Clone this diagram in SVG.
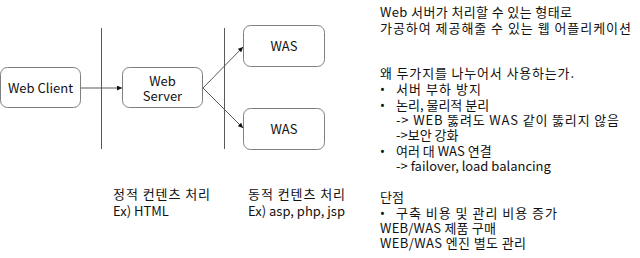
<svg xmlns="http://www.w3.org/2000/svg" width="640" height="258" viewBox="0 0 640 258">
<defs>
<style>
.box{fill:#fff;stroke:#7f7f7f;stroke-width:1}
.ln{stroke:#595959;stroke-width:1;fill:none}
.t{font-family:"Noto Sans CJK KR","Noto Sans",sans-serif;font-size:13px;fill:#111}
.b{font-family:"Noto Sans",sans-serif;font-size:13px;fill:#111}
.c{text-anchor:middle}
</style>
<marker id="ah" viewBox="0 0 6 6" refX="6" refY="3" markerWidth="5" markerHeight="5" orient="auto" markerUnits="userSpaceOnUse">
<path d="M0,0 L6,3 L0,6 z" fill="#111"/>
</marker>
</defs>
<rect width="640" height="258" fill="#fff"/>
<g id="dividers">
<line class="ln" x1="101.5" y1="28" x2="101.5" y2="149"/>
<line class="ln" x1="224.5" y1="28" x2="224.5" y2="149"/>
</g>
<g id="connectors">
<line class="ln" x1="81" y1="88" x2="122" y2="88" marker-end="url(#ah)"/>
<line class="ln" x1="203" y1="88" x2="243" y2="47" marker-end="url(#ah)"/>
<line class="ln" x1="203" y1="88" x2="243" y2="128" marker-end="url(#ah)"/>
</g>
<g id="web-client">
<rect class="box" x="0.5" y="67.5" width="80" height="40" rx="7"/>
<text class="t c" x="40.5" y="92.5">Web Client</text>
</g>
<g id="web-server">
<rect class="box" x="122.5" y="67.5" width="80" height="40" rx="7"/>
<text class="t c" x="162.5" y="85.5">Web</text>
<text class="t c" x="162.5" y="100.5">Server</text>
</g>
<g id="was-1">
<rect class="box" x="243.5" y="25.5" width="81" height="41" rx="7"/>
<text class="t c" x="284" y="51">WAS</text>
</g>
<g id="was-2">
<rect class="box" x="243.5" y="108.5" width="81" height="41" rx="7"/>
<text class="t c" x="284" y="134">WAS</text>
</g>
<g id="labels">
<text class="t" x="113" y="199" textLength="97" lengthAdjust="spacing">정적 컨텐츠 처리</text>
<text class="t" x="113" y="216">Ex) HTML</text>
<text class="t" x="248" y="199" textLength="97" lengthAdjust="spacing">동적 컨텐츠 처리</text>
<text class="t" x="248" y="216">Ex) asp, php, jsp</text>
</g>
<g id="notes">
<text class="t" x="380" y="17" textLength="192" lengthAdjust="spacing">Web 서버가 처리할 수 있는 형태로</text>
<text class="t" x="380" y="33" textLength="251" lengthAdjust="spacing">가공하여 제공해줄 수 있는 웹 어플리케이션</text>
<text class="t" x="380" y="78" textLength="194" lengthAdjust="spacing">왜 두가지를 나누어서 사용하는가.</text>
<text class="b" x="380" y="94">•</text><text class="t" x="396" y="94" textLength="85" lengthAdjust="spacing">서버 부하 방지</text>
<text class="b" x="380" y="110">•</text><text class="t" x="396" y="110">논리, 물리적 분리</text>
<text class="t" x="396" y="125" textLength="223" lengthAdjust="spacing">-&gt; WEB 뚫려도 WAS 같이 뚫리지 않음</text>
<text class="t" x="396" y="140">-&gt;보안 강화</text>
<text class="b" x="380" y="156">•</text><text class="t" x="396" y="156">여러 대 WAS 연결</text>
<text class="t" x="396" y="171">-&gt; failover, load balancing</text>
<text class="t" x="380" y="202">단점</text>
<text class="b" x="380" y="218">•</text><text class="t" x="396" y="218" textLength="161" lengthAdjust="spacing">구축 비용 및 관리 비용 증가</text>
<text class="t" x="380" y="233" textLength="116" lengthAdjust="spacing">WEB/WAS 제품 구매</text>
<text class="t" x="380" y="248" textLength="146" lengthAdjust="spacing">WEB/WAS 엔진 별도 관리</text>
</g>
</svg>
